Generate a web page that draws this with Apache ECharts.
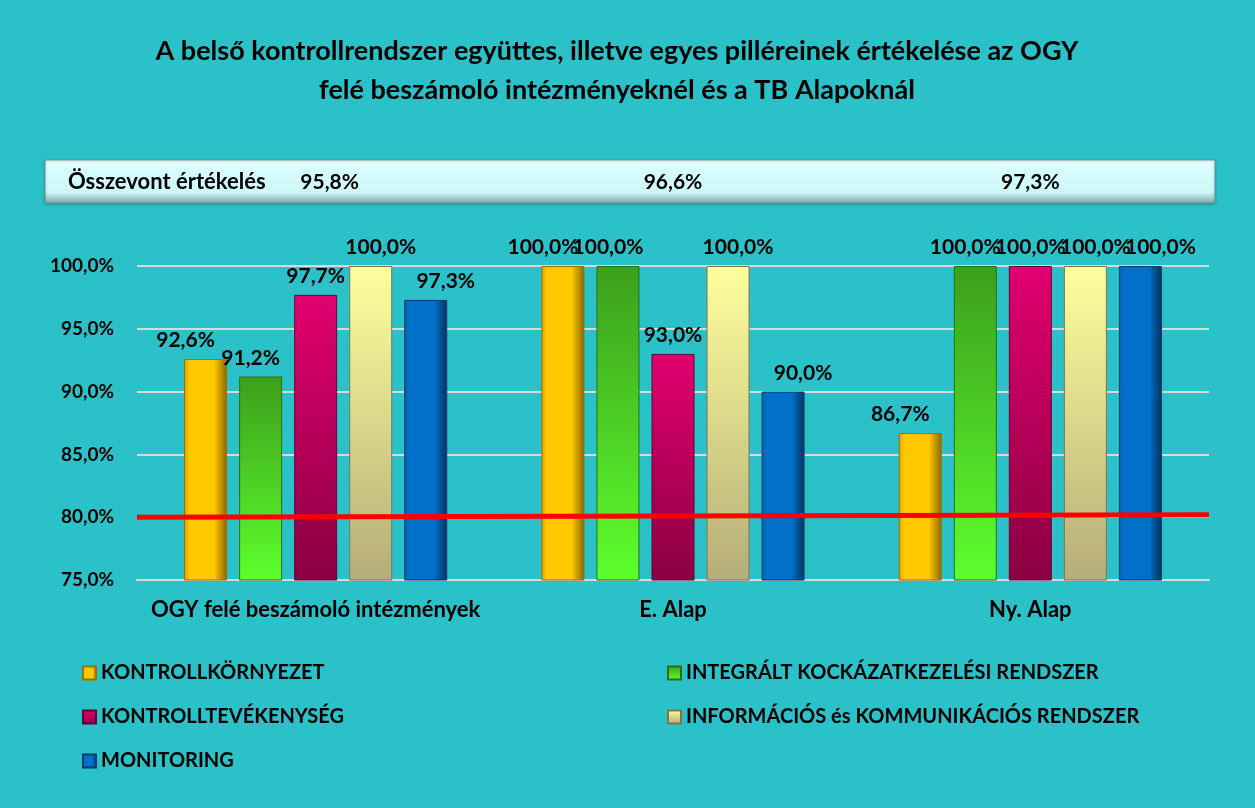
<!DOCTYPE html>
<html>
<head>
<meta charset="utf-8">
<title>Belső kontrollrendszer értékelése</title>
<script src="https://cdn.jsdelivr.net/npm/echarts@6/dist/echarts.min.js"></script>
<style>
  html, body { margin: 0; padding: 0; background: #2bc1c8; }
  #chart { width: 1255px; height: 808px; }
</style>
</head>
<body>
<div id="chart"></div>
<script>
const categories = ['OGY felé beszámoló intézmények', 'E. Alap', 'Ny. Alap']
const seriesNames = [
  'KONTROLLKÖRNYEZET',
  'INTEGRÁLT KOCKÁZATKEZELÉSI RENDSZER',
  'KONTROLLTEVÉKENYSÉG',
  'INFORMÁCIÓS és KOMMUNIKÁCIÓS RENDSZER',
  'MONITORING'
]
const kontrollkornyezet = [92.6, 100.0, 86.7]
const kockazatkezeles = [91.2, 100.0, 100.0]
const kontrolltevekenyseg = [97.7, 93.0, 100.0]
const informacios = [100.0, 100.0, 100.0]
const monitoring = [97.3, 90.0, 100.0]
const summaryValues = [95.8, 96.6, 97.3]
const thresholdValues = [80.0, 80.2]
const yTicks = { min: 75, max: 100, interval: 5 }

const FONT = 'Lato, "Open Sans", sans-serif'

function pct (v) {
  return v.toFixed(1).replace('.', ',') + '%'
}

// bevel-ish fills, one per series
function hGrad (edge, base, dark) {
  return new echarts.graphic.LinearGradient(0, 0, 1, 0, [
    { offset: 0, color: edge },
    { offset: 0.12, color: base },
    { offset: 0.7, color: base },
    { offset: 1, color: dark }
  ])
}
function vGrad (top, bottom) {
  return new echarts.graphic.LinearGradient(0, 0, 0, 1, [
    { offset: 0, color: top },
    { offset: 1, color: bottom }
  ])
}
const fills = [
  hGrad('#d9a200', '#ffc800', '#8a6600'),
  vGrad('#3c9f1c', '#5cff2c'),
  vGrad('#e2006e', '#8a0042'),
  vGrad('#ffff9c', '#b5ad78'),
  hGrad('#0a5fa8', '#0070c8', '#02325e')
]
const borders = ['#9a7400', '#2d6f12', '#6a0032', '#7c7650', '#033a6a']
const values = [kontrollkornyezet, kockazatkezeles, kontrolltevekenyseg, informacios, monitoring]

const barSeries = values.map((data, i) => ({
  name: seriesNames[i],
  type: 'bar',
  data: data,
  barWidth: 43,
  barGap: '28%',
  itemStyle: {
    color: fills[i],
    borderColor: borders[i],
    borderWidth: 1
  },
  label: {
    show: true,
    position: 'top',
    distance: 8,
    // spread the labels a bit so the 100,0% ones don't collide
    offset: [(i - 2) * 10, 0],
    color: '#000',
    fontFamily: FONT,
    fontWeight: 'bold',
    fontSize: 21,
    formatter: p => pct(p.value)
  }
}))

const legendText = { fontFamily: FONT, fontWeight: 'bold', fontSize: 20, color: '#000' }

const option = {
  backgroundColor: '#2bc1c8',
  animation: false,
  title: {
    text: 'A belső kontrollrendszer együttes, illetve egyes pilléreinek értékelése az OGY\nfelé beszámoló intézményeknél és a TB Alapoknál',
    left: 612,
    textAlign: 'center',
    top: 27,
    textStyle: {
      fontFamily: FONT,
      fontWeight: 'bold',
      fontSize: 27,
      lineHeight: 39,
      color: '#000'
    }
  },
  legend: [
    {
      data: [seriesNames[0], seriesNames[2], seriesNames[4]],
      orient: 'vertical',
      left: 82,
      top: 663,
      padding: 0,
      itemWidth: 13,
      itemHeight: 13,
      itemGap: 24,
      icon: 'rect',
      textStyle: legendText
    },
    {
      data: [seriesNames[1], seriesNames[3]],
      orient: 'vertical',
      left: 667,
      top: 663,
      padding: 0,
      itemWidth: 13,
      itemHeight: 13,
      itemGap: 24,
      icon: 'rect',
      textStyle: legendText
    }
  ],
  grid: {
    left: 137,
    right: 46,
    top: 266,
    bottom: 228,
    containLabel: false
  },
  xAxis: [
    {
      type: 'category',
      data: categories,
      axisTick: { show: false },
      axisLine: { lineStyle: { color: '#d9d9d9', width: 2 } },
      axisLabel: {
        interval: 0,
        margin: 19,
        color: '#000',
        fontFamily: FONT,
        fontWeight: 'bold',
        fontSize: 22
      }
    },
    {
      type: 'category',
      data: ['', ''],
      boundaryGap: false,
      show: false
    }
  ],
  yAxis: {
    type: 'value',
    min: yTicks.min,
    max: yTicks.max,
    interval: yTicks.interval,
    axisLine: { show: false },
    axisTick: { show: false },
    splitLine: { lineStyle: { color: '#d9d9d9', width: 2 } },
    axisLabel: {
      margin: 23,
      color: '#000',
      fontFamily: FONT,
      fontWeight: 'bold',
      fontSize: 19,
      formatter: v => pct(v)
    }
  },
  series: barSeries.concat([
    {
      name: 'küszöb',
      type: 'line',
      xAxisIndex: 1,
      data: thresholdValues,
      symbol: 'none',
      z: 5,
      lineStyle: { color: '#ff0000', width: 5 }
    }
  ])
}

const chart = echarts.init(document.getElementById('chart'))
chart.setOption(option)

// summary strip: values sit over the category centres
const summaryTexts = summaryValues.map((v, i) => ({
  type: 'text',
  x: chart.convertToPixel({ xAxisIndex: 0 }, categories[i]) + (i === 0 ? 14 : 0),
  y: 182,
  style: {
    text: pct(v),
    fill: '#000',
    font: 'bold 21px ' + FONT,
    align: 'center',
    verticalAlign: 'middle'
  }
}))
chart.setOption({
  graphic: [
    {
      type: 'rect',
      shape: { x: 45, y: 160, width: 1170, height: 43, r: 2 },
      style: {
        fill: new echarts.graphic.LinearGradient(0, 0, 0, 1, [
          { offset: 0, color: '#f4ffff' },
          { offset: 0.2, color: '#d8ffff' },
          { offset: 0.75, color: '#cdf6f7' },
          { offset: 1, color: '#7fa5a7' }
        ]),
        stroke: '#6f9698',
        lineWidth: 1,
        shadowColor: 'rgba(0,0,0,0.25)',
        shadowBlur: 3,
        shadowOffsetY: 1
      }
    },
    {
      type: 'text',
      x: 68,
      y: 182,
      style: {
        text: 'Összevont értékelés',
        fill: '#000',
        font: 'bold 22px ' + FONT,
        verticalAlign: 'middle'
      }
    }
  ].concat(summaryTexts)
})
</script>
</body>
</html>
